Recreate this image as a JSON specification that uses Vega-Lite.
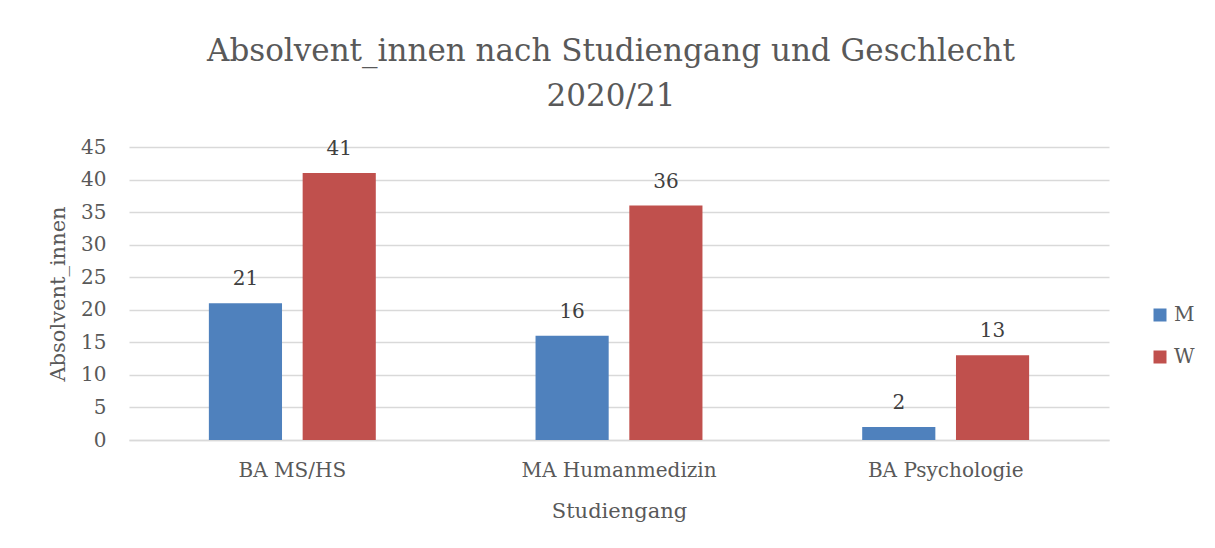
{
  "$schema": "https://vega.github.io/schema/vega-lite/v6.json",
  "width": 980,
  "height": 293,
  "autosize": {"type": "none"},
  "padding": {"left": 129, "top": 147, "right": 106, "bottom": 108},
  "background": "white",
  "title": {
    "text": ["Absolvent_innen nach Studiengang und Geschlecht", "2020/21"],
    "font": "DejaVu Serif",
    "fontSize": 31,
    "fontWeight": "normal",
    "color": "#595959",
    "anchor": "middle",
    "lineHeight": 45,
    "offset": 24,
    "dx": -8
  },
  "data": {
    "values": [
      {"Studiengang": "BA MS/HS", "Geschlecht": "M", "Anzahl": 21},
      {"Studiengang": "BA MS/HS", "Geschlecht": "W", "Anzahl": 41},
      {"Studiengang": "MA Humanmedizin", "Geschlecht": "M", "Anzahl": 16},
      {"Studiengang": "MA Humanmedizin", "Geschlecht": "W", "Anzahl": 36},
      {"Studiengang": "BA Psychologie", "Geschlecht": "M", "Anzahl": 2},
      {"Studiengang": "BA Psychologie", "Geschlecht": "W", "Anzahl": 13}
    ]
  },
  "encoding": {
    "x": {
      "field": "Studiengang",
      "type": "nominal",
      "sort": ["BA MS/HS", "MA Humanmedizin", "BA Psychologie"],
      "scale": {"paddingInner": 0.489, "paddingOuter": 0.2445},
      "axis": {
        "title": "Studiengang",
        "labelAngle": 0,
        "labelLimit": 0,
        "ticks": false,
        "domainColor": "#d9d9d9",
        "domainWidth": 1.5,
        "labelPadding": 20,
        "titlePadding": 20
      }
    },
    "xOffset": {
      "field": "Geschlecht",
      "type": "nominal",
      "scale": {"paddingInner": 0.22, "paddingOuter": 0}
    },
    "y": {
      "field": "Anzahl",
      "type": "quantitative",
      "scale": {"domain": [0, 45], "nice": false},
      "axis": {
        "title": "Absolvent_innen",
        "values": [0, 5, 10, 15, 20, 25, 30, 35, 40, 45],
        "grid": true,
        "gridColor": "#d9d9d9",
        "gridWidth": 1.5,
        "domain": false,
        "ticks": false,
        "labelPadding": 23,
        "titlePadding": 12
      }
    }
  },
  "layer": [
    {
      "mark": {"type": "bar"},
      "encoding": {
        "color": {
          "field": "Geschlecht",
          "type": "nominal",
          "scale": {"domain": ["M", "W"], "range": ["#4f81bd", "#c0504d"]},
          "legend": {
            "title": null,
            "orient": "none",
            "legendX": 1021,
            "legendY": 158,
            "symbolType": "square",
            "symbolSize": 169,
            "symbolStrokeWidth": 0,
            "labelFontSize": 20,
            "labelFont": "DejaVu Serif",
            "labelColor": "#595959",
            "rowPadding": 22,
            "labelOffset": 4
          }
        }
      }
    },
    {
      "mark": {
        "type": "text",
        "baseline": "alphabetic",
        "dy": -18,
        "font": "DejaVu Serif",
        "fontSize": 20,
        "color": "#404040"
      },
      "encoding": {
        "text": {"field": "Anzahl", "type": "quantitative"}
      }
    }
  ],
  "config": {
    "view": {"stroke": null},
    "axis": {
      "labelFont": "DejaVu Serif",
      "titleFont": "DejaVu Serif",
      "labelColor": "#595959",
      "titleColor": "#595959",
      "labelFontSize": 20,
      "titleFontSize": 21,
      "titleFontWeight": "normal"
    }
  }
}
